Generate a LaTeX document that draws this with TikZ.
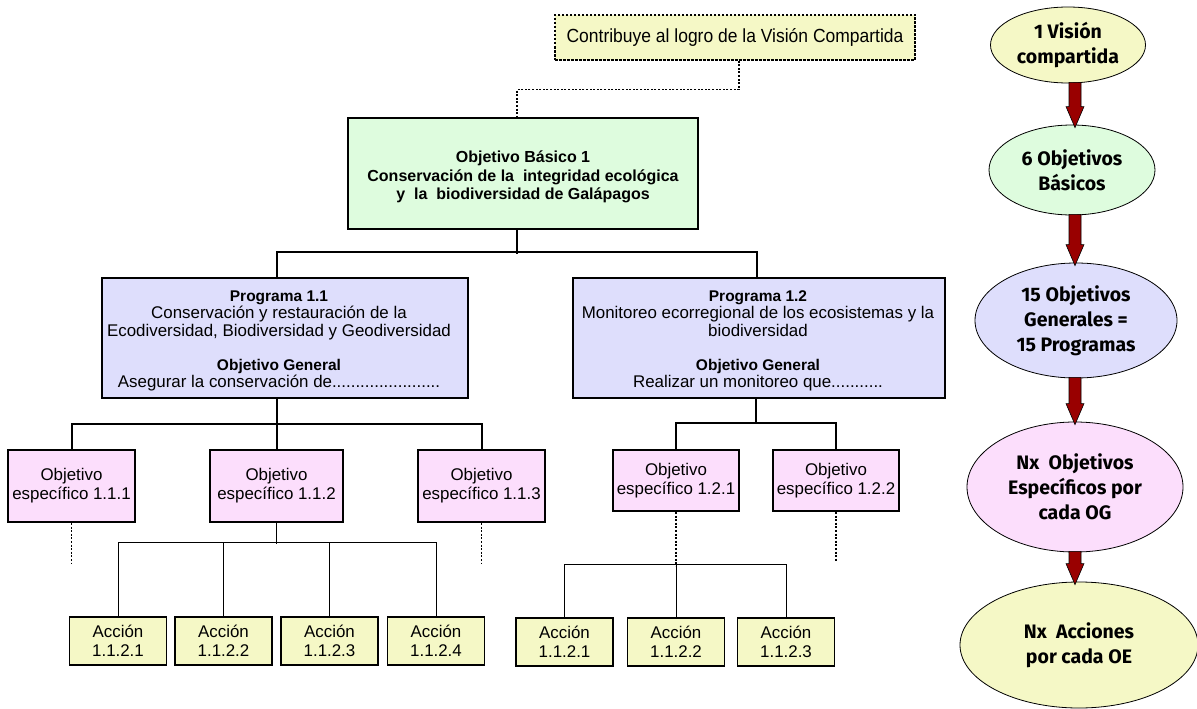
\documentclass[tikz,border=0pt]{standalone}
\usepackage{fontspec}
\setmainfont{Liberation Sans}
\newfontfamily\ellfont{Fira Sans}
\usetikzlibrary{shapes.geometric,calc}
\definecolor{cyel}{RGB}{245,248,198}
\definecolor{cgreen}{RGB}{222,252,222}
\definecolor{clav}{RGB}{222,222,252}
\definecolor{cpink}{RGB}{252,222,252}
\definecolor{cred}{RGB}{153,0,0}
\newcommand{\bt}[1]{{\bfseries\fontsize{15.5}{17.5}\selectfont #1}}
\begin{document}
\begin{tikzpicture}[x=1pt,y=-1pt,
  bigbox/.style={draw=black, line width=1.8pt, rectangle, inner sep=0pt},
  boxtext/.style={inner sep=0pt, align=center, font=\fontsize{16.9}{17.5}\selectfont},
  oebox/.style={draw=black, line width=1.8pt, rectangle, inner sep=0pt, align=center,
    fill=cpink, font=\fontsize{16.9}{19}\selectfont},
  actbox/.style={draw=black, line width=1.1pt, rectangle, inner sep=0pt, align=center,
    fill=cyel, minimum width=97pt, minimum height=48pt, font=\fontsize{16.9}{19}\selectfont},
  ell/.style={draw=black, line width=0.8pt, ellipse, inner sep=0pt, align=center,
    font=\ellfont\bfseries\fontsize{19.5}{25}\selectfont},
  conn/.style={draw=black, line width=2pt},
  thinconn/.style={draw=black, line width=1pt},
  dotl/.style={draw=black, line width=1.3pt, dash pattern=on 2pt off 1.6pt},
  bigarrow/.style={fill=cred, draw=black, line width=0.6pt}
]
\useasboundingbox (0,0) rectangle (1197,709);

% top dashed box
\node[draw=black, line width=1.2pt, dash pattern=on 2.5pt off 1.5pt, fill=cyel,
  minimum width=360pt, minimum height=45pt, inner sep=0pt] (contrib) at (735,37.5)
  {\fontsize{19}{20}\selectfont\scalebox{0.92}[1]{Contribuye al logro de la Visión Compartida}};

% basic objective
\node[bigbox, fill=cgreen, minimum width=350pt, minimum height=111pt] (basic) at (523,173.5) {};
\node[boxtext, font=\bfseries\fontsize{16}{18.5}\selectfont] (basictxt) at ([yshift=-3.5pt]basic.center)
  {Objetivo Básico 1\\ Conservación de la \ integridad ecológica\\ y \ la \ biodiversidad de Galápagos};

% programs
\node[bigbox, fill=clav, minimum width=366pt, minimum height=120pt] (prog1) at (285,338) {};
\node[boxtext] (prog1txt) at ([xshift=-6pt,yshift=-3pt]prog1.center)
  {\bt{Programa 1.1}\\
   Conservación y restauración de la\\
   Ecodiversidad, Biodiversidad y Geodiversidad\\[16.5pt]
   \bt{Objetivo General}\\
   Asegurar la conservación de.......................};
\node[bigbox, fill=clav, minimum width=372pt, minimum height=120pt] (prog2) at (759,338) {};
\node[boxtext] (prog2txt) at ([xshift=-1pt,yshift=-3pt]prog2.center)
  {\bt{Programa 1.2}\\
   Monitoreo ecorregional de los ecosistemas y la\\
   biodiversidad\\[16.5pt]
   \bt{Objetivo General}\\
   Realizar un monitoreo que...........};

% specific objectives
\node[oebox, minimum width=127pt, minimum height=72pt] (oe111) at (71.5,486) {Objetivo\\específico 1.1.1};
\node[oebox, minimum width=133pt, minimum height=72pt] (oe112) at (276.5,486) {Objetivo\\específico 1.1.2};
\node[oebox, minimum width=127pt, minimum height=72pt] (oe113) at (481.5,486) {Objetivo\\específico 1.1.3};
\node[oebox, minimum width=126pt, minimum height=61pt] (oe121) at (676,480.5) {Objetivo\\específico 1.2.1};
\node[oebox, minimum width=126pt, minimum height=61pt] (oe122) at (836,480.5) {Objetivo\\específico 1.2.2};

% actions
\node[actbox] (a1) at (118,641) {Acción\\1.1.2.1};
\node[actbox] (a2) at (223.5,641) {Acción\\1.1.2.2};
\node[actbox] (a3) at (329.5,641) {Acción\\1.1.2.3};
\node[actbox] (a4) at (436,641) {Acción\\1.1.2.4};
\node[actbox] (b1) at (564.5,642) {Acción\\1.1.2.1};
\node[actbox] (b2) at (676,642) {Acción\\1.1.2.2};
\node[actbox] (b3) at (786,642) {Acción\\1.1.2.3};

% connectors
\draw[dotl] ([xshift=4pt]contrib.south) -- ++(0,29) -| ([xshift=-6pt]basic.north);
\draw[conn] ([xshift=-6pt]basic.south) -- ++(0,24);
\draw[conn] ([xshift=-8pt]prog1.north) -- ++(0,-25) -| ([xshift=-2pt]prog2.north);

\draw[conn] (oe111.north) -- ++(0,-25) -| (oe113.north);
\draw[conn] (oe112.north) -- (oe112.north |- prog1.south);
\coordinate (m2) at ($(oe121.north)!0.5!(oe122.north)$);
\draw[conn] (oe121.north) -- ++(0,-26) -| (oe122.north);
\draw[conn] ([yshift=26pt]m2) -- (m2 |- prog2.south);

\draw[dotl] (oe111.south) -- ++(0,40);
\draw[dotl] (oe113.south) -- ++(0,40);
\draw[dotl] (oe122.south) -- ++(0,50);

\draw[thinconn] (a1.north) -- ++(0,-74) -| (a4.north);
\draw[thinconn] (a2.north) -- ++(0,-74);
\draw[thinconn] (a3.north) -- ++(0,-74);
\draw[thinconn] (oe112.south) -- ++(0,21);

\draw[thinconn] (b1.north) -- ++(0,-53) -| (b3.north);
\draw[thinconn] (b2.north) -- ++(0,-53);
\draw[dotl, line width=1.2pt] (oe121.south) -- ++(0,54);

% right column
\node[ell, fill=cyel, minimum width=155pt, minimum height=76pt] (e1) at (1068,45) {1 Visión\\compartida};
\node[ell, fill=cgreen, minimum width=166pt, minimum height=90pt] (e2) at (1072,170) {6 Objetivos\\Básicos};
\node[ell, fill=clav, minimum width=202pt, minimum height=115pt] (e3) at (1076,320.5) {15 Objetivos\\Generales =\\15 Programas};
\node[ell, fill=cpink, minimum width=216pt, minimum height=130pt] (e4) at (1075,487) {Nx \ Objetivos\\Específicos por\\cada OG};
\node[ell, fill=cyel, minimum width=238pt, minimum height=126pt] (e5) at (1079,645) {Nx \ Acciones\\por cada OE};

\foreach \a/\b in {e1/e2,e2/e3,e3/e4,e4/e5}{
  \path[bigarrow] let \p1=(\a.south), \p2=(\b.north) in
    ({1069pt},{\y1+1pt}) -- ({1069pt},{\y2+18pt}) -- ({1066pt},{\y2+18pt}) --
    ({1075pt},{\y2-3pt}) -- ({1084pt},{\y2+18pt}) -- ({1081pt},{\y2+18pt}) --
    ({1081pt},{\y1+1pt}) -- cycle;
}
\end{tikzpicture}
\end{document}
